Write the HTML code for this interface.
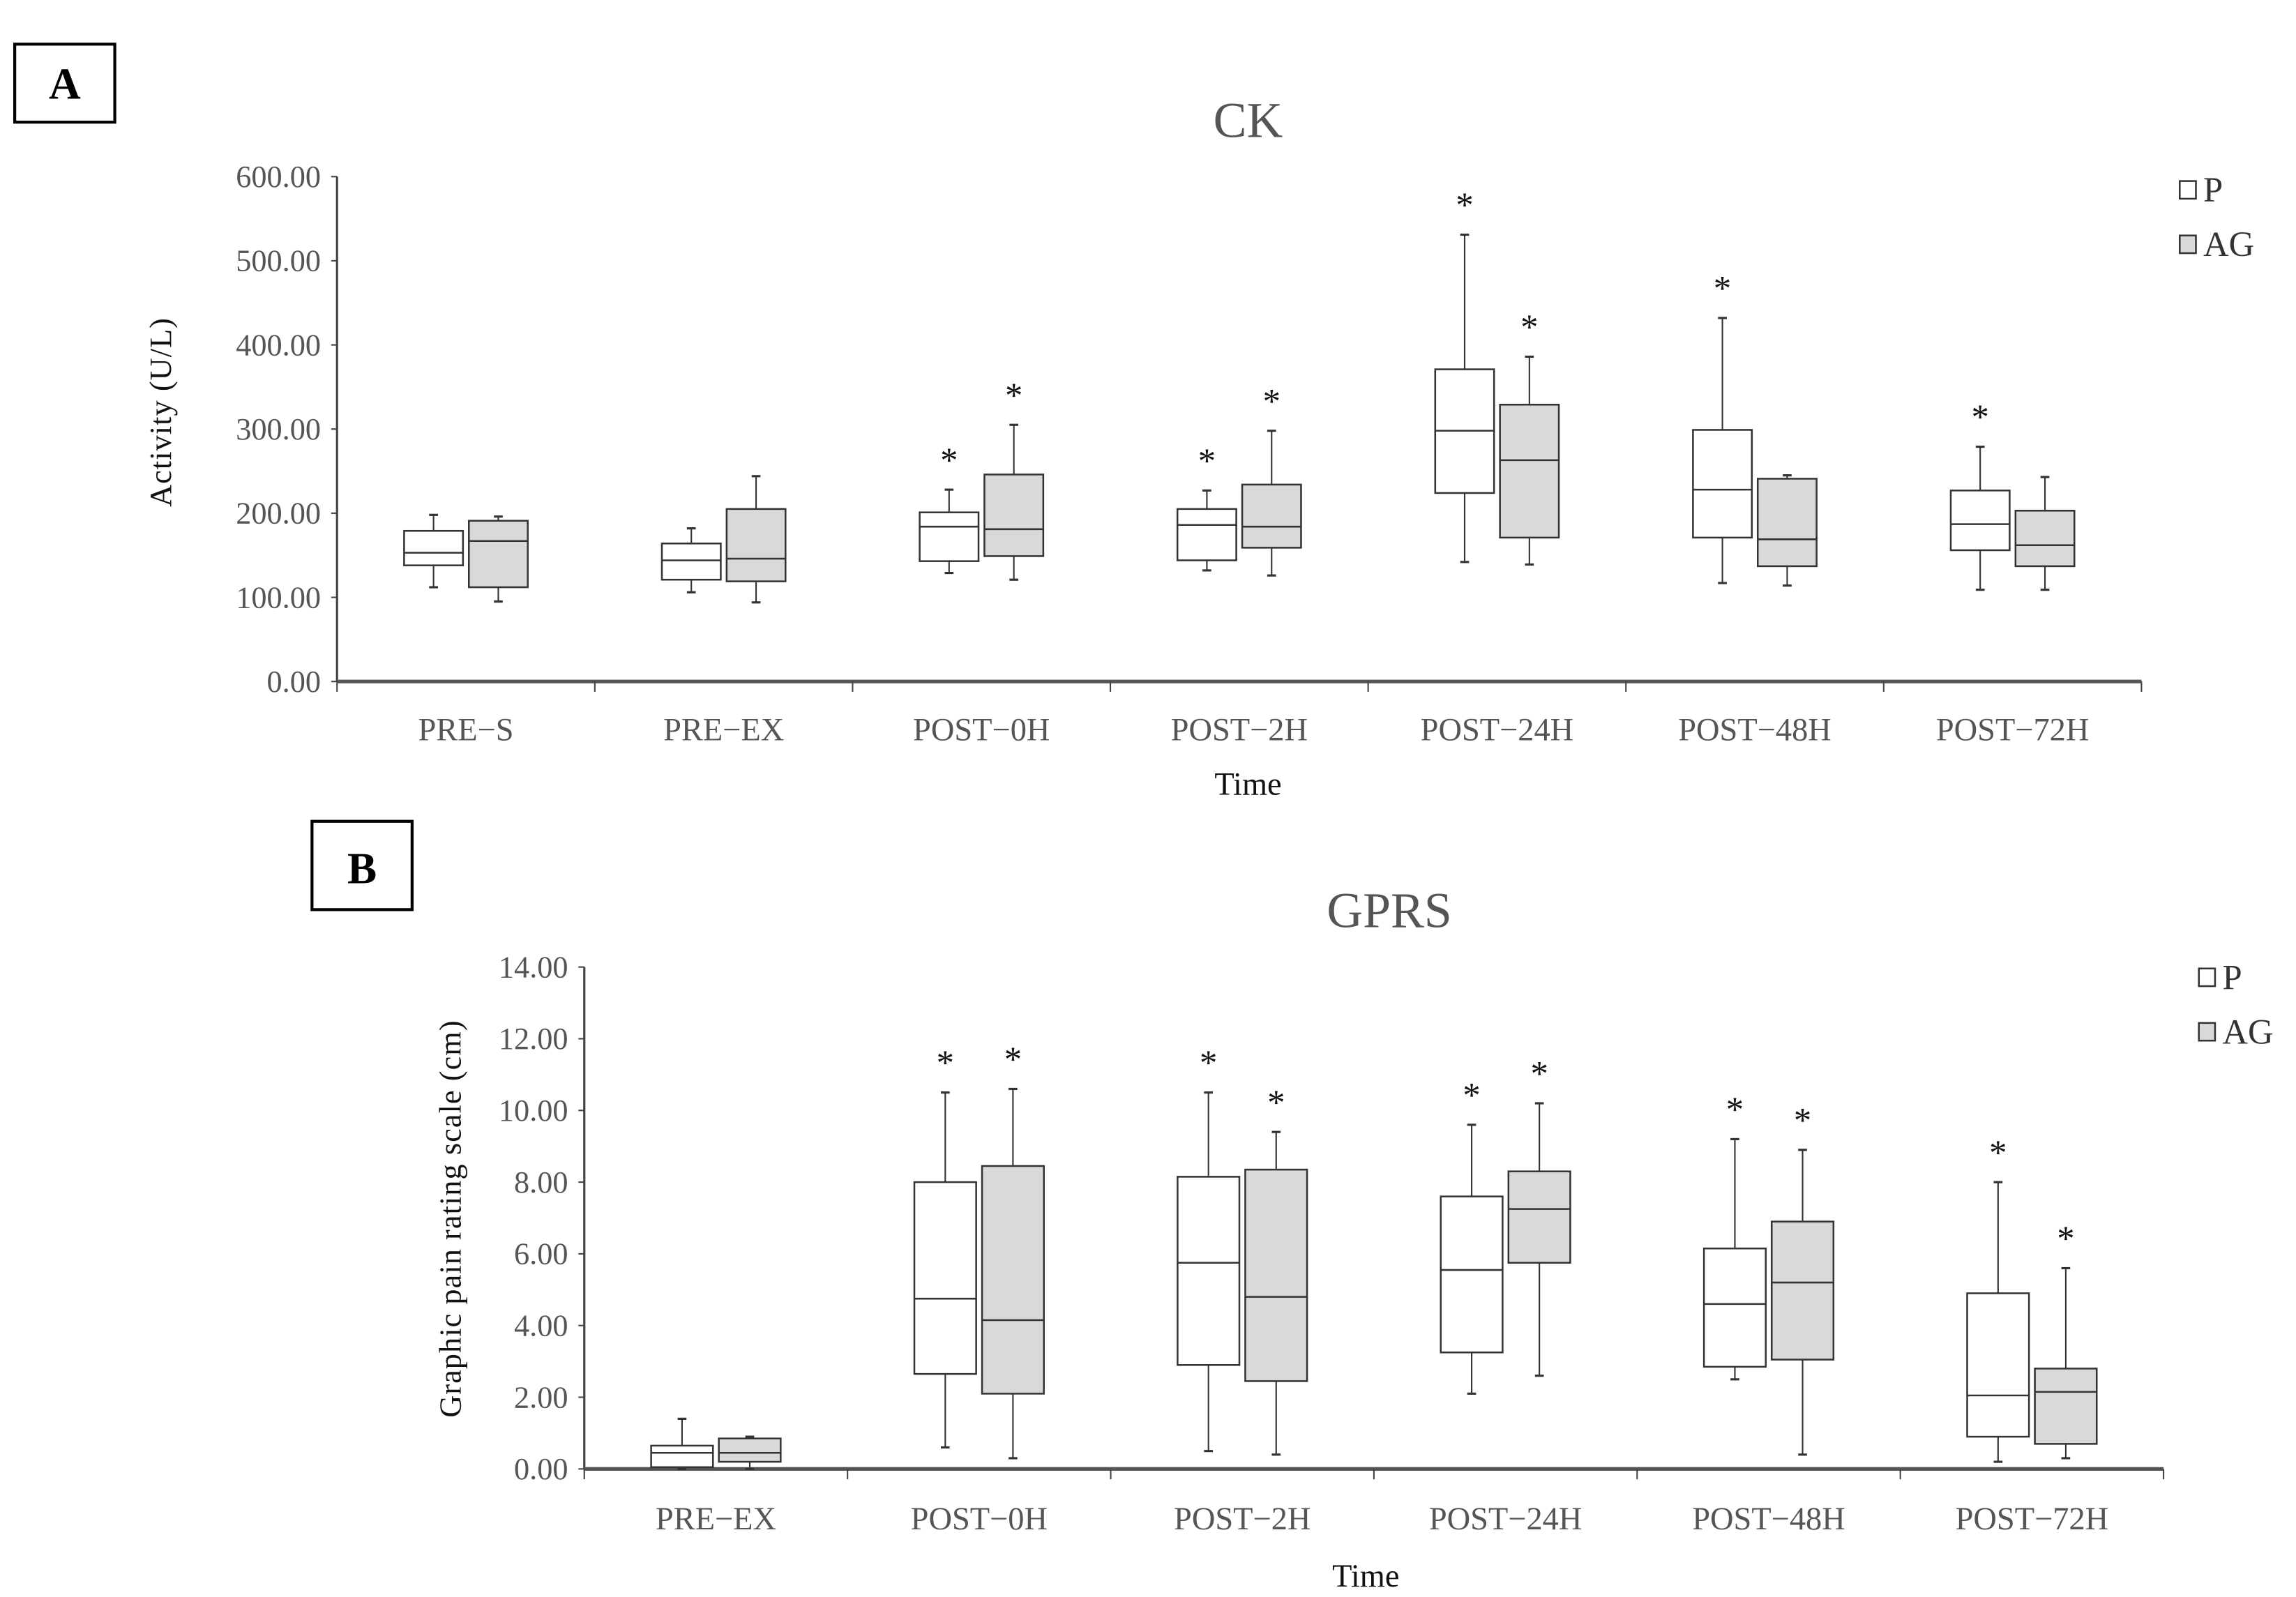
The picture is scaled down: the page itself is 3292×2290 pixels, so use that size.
<!DOCTYPE html>
<html><head><meta charset="utf-8"><style>
html,body{margin:0;padding:0;background:#fff}
svg{display:block}
text{font-family:"Liberation Serif",serif}
</style></head><body>
<svg id="root" width="3292" height="2290" viewBox="0 0 1560 1085" preserveAspectRatio="none">
<g><rect x="10" y="30" width="68" height="53" fill="#fff" stroke="#000" stroke-width="2"/><text x="44" y="67" font-size="30" font-weight="bold" text-anchor="middle">A</text></g>
<g><rect x="212" y="558" width="68" height="60" fill="#fff" stroke="#000" stroke-width="2"/><text x="246" y="600" font-size="30" font-weight="bold" text-anchor="middle">B</text></g>
<g id="chartA"></g>
<g id="chartB"></g>
</svg>
<script>
const ckCategories=["PRE-S","PRE-EX","POST-0H","POST-2H","POST-24H","POST-48H","POST-72H"];
const ckP=[[112,138,153,179,198],[106,121,144,164,182],[129,143,184,201,228],[132,144,186,205,227],[142,224,298,371,531],[117,171,228,299,432],[109,156,187,227,279]];
const ckAG=[[95,112,167,191,196],[94,119,146,205,244],[121,149,181,246,305],[126,159,184,234,298],[139,171,263,329,386],[114,137,169,241,245],[109,137,162,203,243]];
const ckStarP=[0,0,1,1,1,1,1];
const ckStarAG=[0,0,1,1,1,0,0];
const ckTicks=[0,100,200,300,400,500,600];
const gpCategories=["PRE-EX","POST-0H","POST-2H","POST-24H","POST-48H","POST-72H"];
const gpP=[[0,0.05,0.45,0.65,1.4],[0.6,2.65,4.75,8.0,10.5],[0.5,2.9,5.75,8.15,10.5],[2.1,3.25,5.55,7.6,9.6],[2.5,2.85,4.6,6.15,9.2],[0.2,0.9,2.05,4.9,8.0]];
const gpAG=[[0,0.2,0.45,0.85,0.9],[0.3,2.1,4.15,8.45,10.6],[0.4,2.45,4.8,8.35,9.4],[2.6,5.75,7.25,8.3,10.2],[0.4,3.05,5.2,6.9,8.9],[0.3,0.7,2.15,2.8,5.6]];
const gpStarP=[0,1,1,1,1,1];
const gpStarAG=[0,1,1,1,1,1];
const gpTicks=[0,2,4,6,8,10,12,14];
const NS="http://www.w3.org/2000/svg";
function mk(parent,tag,attrs,txt){const e=document.createElementNS(NS,tag);for(const k in attrs)e.setAttribute(k,attrs[k]);if(txt!==undefined)e.textContent=txt;parent.appendChild(e);return e;}
function draw(g,cfg){
  const y=v=>cfg.y0-(v-cfg.vmin)/(cfg.vmax-cfg.vmin)*(cfg.y0-cfg.y1);
  const bw=(cfg.x1-cfg.x0)/cfg.cats.length;
  const xc=i=>cfg.x0+bw*(i+0.5);
  const t=mk(g,'text',{x:cfg.titleX,y:cfg.titleY,'font-size':34,fill:'#555','text-anchor':'middle'},cfg.title);
  
  
  mk(g,'line',{x1:cfg.x0,y1:cfg.y1,x2:cfg.x0,y2:cfg.y0,stroke:'#444','stroke-width':1.5});
  const xa=mk(g,'line',{x1:cfg.x0,y1:cfg.y0,x2:cfg.x1,y2:cfg.y0,stroke:'#555','stroke-width':2.5});
  
  
  cfg.ticks.forEach(v=>{
    mk(g,'line',{x1:cfg.x0-4,y1:y(v),x2:cfg.x0,y2:y(v),stroke:'#444','stroke-width':1});
    const tl=mk(g,'text',{x:cfg.x0-11,y:y(v)+7,'font-size':21,fill:'#555','text-anchor':'end'},v.toFixed(2));
    
    
  });
  for(let i=0;i<=cfg.cats.length;i++){const xx=cfg.x0+bw*i;mk(g,'line',{x1:xx,y1:cfg.y0,x2:xx,y2:cfg.y0+7,stroke:'#444','stroke-width':1});}
  cfg.cats.forEach((c,i)=>{
    const cl=mk(g,'text',{x:xc(i),y:cfg.labY,'font-size':22,fill:'#555','text-anchor':'middle'},c.replace('-','\u2212'));
    
    
  });
  const xt=mk(g,'text',{x:cfg.timeX,y:cfg.timeY,'font-size':22,fill:'#111','text-anchor':'middle'},'Time');
  
  
  const yt=mk(g,'text',{x:0,y:0,'font-size':21,fill:'#111','text-anchor':'middle','letter-spacing':'0.5',transform:`translate(${cfg.ytX},${cfg.ytY}) rotate(-90)`},cfg.ytitle);
  
  
  const series=[[cfg.P,cfg.sP,'#fff',-cfg.off,'p'],[cfg.AG,cfg.sAG,'#d9d9d9',cfg.off,'ag']];
  series.forEach(([data,stars,fill,off,nm])=>{
    data.forEach((d,i)=>{
      const cx=xc(i)+off,h=cfg.w/2;
      const bg=mk(g,'g',{});
      
      
      mk(bg,'line',{x1:cx,y1:y(d[0]),x2:cx,y2:y(d[4]),stroke:'#333','stroke-width':1});
      mk(bg,'line',{x1:cx-3,y1:y(d[0]),x2:cx+3,y2:y(d[0]),stroke:'#333','stroke-width':1.5});
      mk(bg,'line',{x1:cx-3,y1:y(d[4]),x2:cx+3,y2:y(d[4]),stroke:'#333','stroke-width':1.5});
      mk(bg,'rect',{x:cx-h,y:y(d[3]),width:cfg.w,height:y(d[1])-y(d[3]),fill:fill,stroke:'#333','stroke-width':1.2});
      mk(bg,'line',{x1:cx-h,y1:y(d[2]),x2:cx+h,y2:y(d[2]),stroke:'#333','stroke-width':1.2});
      if(stars[i]){
        const s=mk(g,'text',{x:cx,y:y(d[4])-12,'font-size':24,fill:'#111','text-anchor':'middle'},'*');
        
        
      }
    });
  });
  [['P','#fff',cfg.legY],['AG','#d9d9d9',cfg.legY+37]].forEach(([lab,f,ly])=>{
    const lg=mk(g,'g',{});
    
    
    mk(lg,'rect',{x:cfg.legX,y:ly,width:11,height:12,fill:f,stroke:'#333','stroke-width':1.2});
    mk(lg,'text',{x:cfg.legX+16,y:ly+14,'font-size':24,fill:'#333'},lab);
  });
}
draw(document.getElementById('chartA'),{cats:ckCategories,P:ckP,AG:ckAG,sP:ckStarP,sAG:ckStarAG,ticks:ckTicks,vmin:0,vmax:600,x0:229,x1:1455,y0:463,y1:120,off:22,w:40,title:'CK',titleX:848,titleY:93,labY:503,timeX:848,timeY:540,ytitle:'Activity (U/L)',ytX:116,ytY:280,legX:1481,legY:123});
draw(document.getElementById('chartB'),{cats:gpCategories,P:gpP,AG:gpAG,sP:gpStarP,sAG:gpStarAG,ticks:gpTicks,vmin:0,vmax:14,x0:397,x1:1470,y0:998,y1:657,off:23,w:42,title:'GPRS',titleX:944,titleY:630,labY:1039,timeX:928,timeY:1078,ytitle:'Graphic pain rating scale (cm)',ytX:313,ytY:828,legX:1494,legY:658});
</script>
</body></html>
